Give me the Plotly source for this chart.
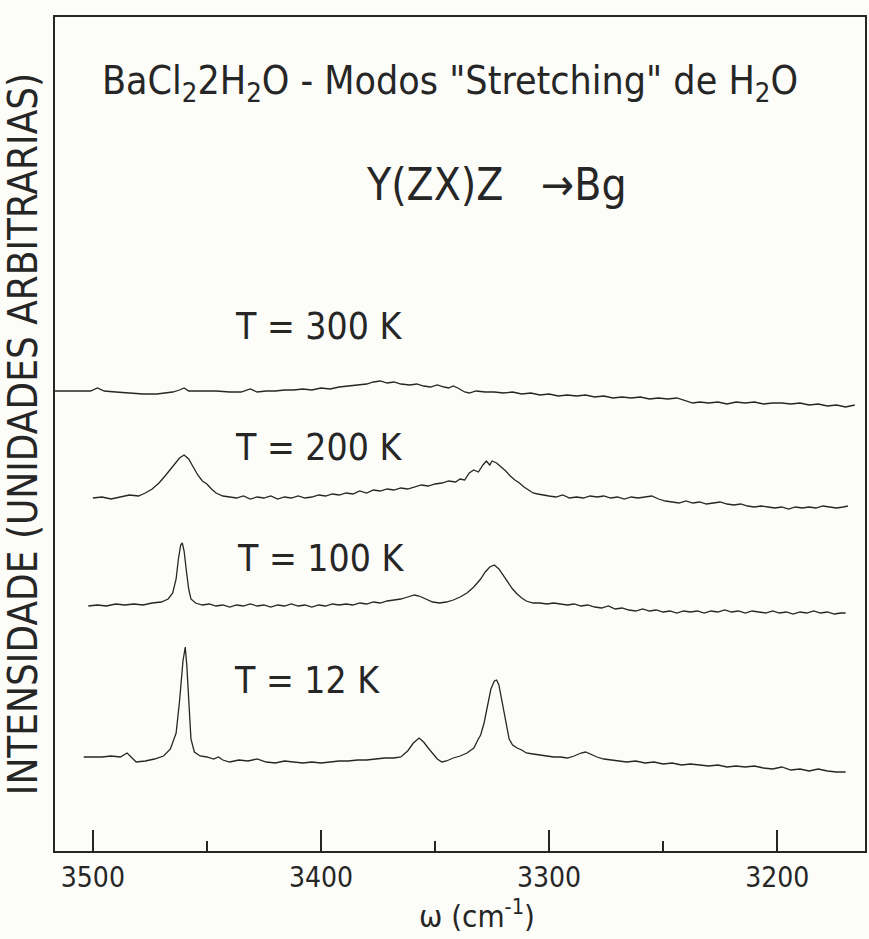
import plotly.graph_objects as go

# ---- data: wavenumber (cm^-1) and intensity (arb. units, offset per T) ----
w_12K = [3504, 3500, 3496, 3492, 3488, 3485, 3483, 3481, 3477, 3473, 3469, 3466, 3463.5, 3462, 3460.5,
         3459.5, 3458.8, 3458, 3457, 3455.5, 3453, 3450, 3447, 3445, 3443, 3440, 3436, 3432, 3428, 3424,
         3420, 3416, 3412, 3408, 3404, 3400, 3396, 3392, 3388, 3384, 3380, 3376, 3372, 3368, 3365, 3362,
         3359.5, 3357, 3355, 3353, 3351, 3349, 3347, 3345, 3342, 3339, 3336, 3333, 3331, 3330, 3328.5,
         3327, 3325.5, 3324, 3323, 3322, 3320.5, 3319, 3317.5, 3316, 3314, 3312, 3310, 3307, 3304, 3301,
         3298, 3295, 3292, 3289, 3286, 3284, 3282, 3279, 3276, 3273, 3270, 3266, 3262, 3258, 3254, 3250,
         3246, 3242, 3238, 3234, 3230, 3226, 3222, 3218, 3214, 3210, 3206, 3202, 3198, 3194, 3190, 3186,
         3182, 3178, 3174, 3170]
i_12K = [94, 94, 94, 95, 94, 98, 93, 89, 90, 92, 95, 102, 118, 150, 190,
         204, 185, 150, 112, 99, 95, 94, 92, 94, 91, 89, 91, 90, 92, 89,
         88, 90, 89, 88, 89, 88, 89, 90, 90, 91, 91, 92, 93, 93, 94, 100,
         108, 113, 109, 103, 97, 92, 89, 90, 93, 95, 98, 103, 112, 116, 128,
         145, 162, 170, 171, 166, 148, 127, 112, 106, 103, 101, 98, 97, 96, 95,
         94, 94, 93, 95, 98, 99, 97, 94, 92, 91, 90, 89, 90, 88, 89, 87,
         88, 86, 87, 86, 85, 86, 84, 85, 84, 85, 83, 82, 84, 81, 82, 80,
         82, 80, 79, 79]

w_100K = [3502, 3498, 3494, 3490, 3486, 3482, 3478, 3474, 3470, 3467, 3465, 3463.5, 3462.5, 3461.5,
          3460.8, 3460, 3459, 3458, 3457, 3455, 3452, 3449, 3446, 3443, 3440, 3437, 3434, 3431, 3428,
          3425, 3422, 3419, 3416, 3413, 3410, 3407, 3404, 3401, 3398, 3395, 3392, 3389, 3386, 3383,
          3380, 3377, 3374, 3371, 3368, 3365, 3362, 3359, 3357, 3354, 3351, 3348, 3345, 3342, 3339,
          3336, 3333, 3330, 3328, 3326, 3324, 3322, 3320, 3318, 3316, 3314, 3312, 3310, 3307, 3304,
          3301, 3298, 3295, 3292, 3289, 3286, 3283, 3280, 3277, 3274, 3271, 3268, 3265, 3262, 3259,
          3256, 3253, 3250, 3247, 3244, 3241, 3238, 3235, 3232, 3229, 3226, 3223, 3220, 3217, 3214,
          3211, 3208, 3205, 3202, 3199, 3196, 3193, 3190, 3187, 3184, 3181, 3178, 3175, 3172, 3170]
i_100K = [245, 246, 245, 247, 246, 247, 246, 248, 249, 252, 258, 272, 292, 306,
          308, 300, 280, 262, 252, 248, 246, 247, 245, 246, 244, 246, 245, 247, 245,
          246, 244, 246, 245, 247, 245, 246, 244, 246, 245, 247, 246, 247, 246, 248,
          247, 249, 248, 250, 251, 252, 254, 256, 255, 252, 249, 248, 249, 251, 254,
          258, 264, 272, 279, 284, 286, 282, 275, 268, 262, 257, 253, 250, 248, 248,
          247, 248, 247, 246, 247, 245, 246, 244, 243, 245, 242, 243, 241, 240, 242,
          240, 241, 239, 240, 238, 240, 239, 240, 238, 240, 239, 241, 239, 240, 238,
          240, 239, 238, 240, 238, 239, 237, 239, 238, 240, 238, 239, 237, 238, 238]

w_200K = [3500, 3496, 3492, 3488, 3484, 3480, 3477, 3474, 3471, 3468, 3465, 3462, 3460, 3458, 3456,
          3454, 3452, 3450, 3448, 3446, 3443, 3440, 3437, 3434, 3431, 3428, 3425, 3422, 3419, 3416,
          3413, 3410, 3407, 3404, 3401, 3398, 3395, 3392, 3389, 3386, 3383, 3380, 3377, 3374, 3371,
          3368, 3365, 3362, 3359, 3356, 3353, 3350, 3347, 3344, 3341, 3339, 3337, 3335, 3333, 3331,
          3329, 3327.5, 3326, 3325, 3323, 3321, 3319, 3317, 3315, 3313, 3311, 3309, 3307, 3305, 3303,
          3300, 3297, 3294, 3291, 3288, 3285, 3282, 3279, 3276, 3273, 3270, 3267, 3264, 3261, 3258,
          3255, 3252, 3249, 3246, 3243, 3240, 3237, 3234, 3231, 3228, 3225, 3222, 3219, 3216, 3213,
          3210, 3207, 3204, 3201, 3198, 3195, 3192, 3189, 3186, 3183, 3180, 3177, 3174, 3171, 3169]
i_200K = [353, 354, 352, 354, 356, 355, 358, 362, 368, 376, 385, 393, 396, 392, 384,
          376, 370, 367, 362, 358, 355, 354, 353, 355, 352, 354, 353, 355, 352, 354,
          353, 355, 353, 354, 356, 355, 357, 356, 358, 357, 360, 358, 361, 360, 362,
          361, 363, 362, 364, 366, 365, 367, 368, 370, 369, 372, 371, 378, 381, 379,
          386, 390, 386, 390, 388, 384, 380, 375, 371, 368, 364, 361, 358, 357, 356,
          355, 354, 356, 353, 354, 353, 355, 354, 355, 353, 354, 352, 354, 353, 354,
          355, 352, 350, 349, 348, 350, 348, 349, 347, 348, 349, 347, 346, 347, 345,
          344, 345, 344, 343, 344, 342, 344, 343, 344, 343, 345, 344, 343, 344, 345]

w_300K = [3517, 3512, 3506, 3501, 3498, 3495, 3490, 3484, 3478, 3472, 3468, 3465, 3462, 3460, 3458,
          3452, 3446, 3440, 3435, 3431, 3428, 3424, 3420, 3416, 3412, 3408, 3404, 3400, 3396, 3392,
          3388, 3384, 3380, 3377, 3374, 3371, 3368, 3365, 3361, 3358, 3355, 3352, 3349, 3346, 3344,
          3342, 3340, 3337, 3335, 3332, 3328, 3324, 3320, 3316, 3312, 3308, 3304, 3300, 3296, 3292,
          3288, 3284, 3280, 3276, 3272, 3268, 3264, 3260, 3256, 3252, 3248, 3244, 3240, 3237, 3234,
          3230, 3226, 3222, 3218, 3214, 3210, 3206, 3202, 3198, 3194, 3190, 3186, 3182, 3178, 3174,
          3170, 3166]
i_300K = [460, 460, 460, 460, 463, 460, 459, 458, 457, 457, 458, 459, 461, 463, 460,
          460, 460, 459, 459, 462, 459, 460, 460, 461, 461, 462, 461, 463, 462, 464,
          465, 466, 467, 469, 470, 468, 469, 467, 466, 467, 465, 464, 466, 464, 463,
          465, 463, 459, 458, 460, 459, 459, 458, 459, 457, 458, 456, 457, 455, 456,
          455, 456, 454, 455, 453, 454, 453, 454, 452, 453, 452, 453, 450, 448, 449,
          448, 449, 447, 449, 448, 449, 447, 448, 448, 447, 448, 446, 447, 445, 446,
          444, 446]

major_ticks = [3500, 3400, 3300, 3200]
minor_ticks = [3450, 3350, 3250]

title_text = "BaCl<sub>2</sub>2H<sub>2</sub>O - Modos \"Stretching\" de H<sub>2</sub>O"
geometry_text = "Y(ZX)Z   \u2192Bg"
temp_labels = ["T = 300 K", "T = 200 K", "T = 100 K", "T = 12 K"]
y_title = "INTENSIDADE (UNIDADES ARBITRARIAS)"
x_title = "\u03c9 (cm<sup>-1</sup>)"

# ---- figure ----
W, H = 869, 939
ML, MR, MT, MB = 55, 2, 17, 88
PW, PH = W - ML - MR, H - MT - MB
INK = "#262626"
PAPER = "#fcfcf9"
FONT = "Liberation Sans Narrow, Arial Narrow, DejaVu Sans Condensed, Liberation Sans, sans-serif"


def px(xp):
    return (xp - ML) / PW


def py(yp):
    return (H - MB - yp) / PH


fig = go.Figure()
for w, i in [(w_300K, i_300K), (w_200K, i_200K), (w_100K, i_100K), (w_12K, i_12K)]:
    fig.add_trace(go.Scatter(x=w, y=i, mode="lines", line=dict(color=INK, width=1.3),
                             showlegend=False, hoverinfo="skip"))

fig.update_layout(
    width=W, height=H,
    margin=dict(l=ML, r=MR, t=MT, b=MB),
    paper_bgcolor=PAPER, plot_bgcolor=PAPER,
    font=dict(family=FONT, color=INK, size=28),
    title=dict(text=title_text, x=450 / W, y=1 - 80 / H, xanchor="center", yanchor="middle",
               xref="container", yref="container",
               font=dict(family=FONT, color=INK, size=39)),
    xaxis=dict(range=[3516.6, 3161.5], tickvals=major_ticks, ticktext=[str(v) for v in major_ticks],
               ticks="inside", ticklen=21, tickwidth=1.6, tickcolor=INK,
               minor=dict(tickvals=minor_ticks, ticks="inside", ticklen=10, tickwidth=1.6, tickcolor=INK),
               showline=True, linecolor=INK, linewidth=2.4, mirror=True,
               showgrid=False, zeroline=False, tickfont=dict(size=28, family=FONT, color=INK)),
    yaxis=dict(range=[0, 834], showticklabels=False, ticks="", showgrid=False, zeroline=False,
               showline=True, linecolor=INK, linewidth=2, mirror=True,
               title=dict(text=y_title, standoff=6, font=dict(size=40, family=FONT, color=INK))),
)

labels = [(geometry_text, 498, 185, "center", 44), (x_title, 478, 914, "center", 31)]
for lab, xl, yl in zip(temp_labels, [233, 233, 235, 232], [326, 447, 558, 680]):
    labels.append((lab, xl, yl, "left", 37))
for text, xl, yl, anchor, size in labels:
    fig.add_annotation(text=text, xref="paper", yref="paper", x=px(xl), y=py(yl),
                       xanchor=anchor, yanchor="middle", showarrow=False,
                       font=dict(family=FONT, color=INK, size=size))

fig.write_html("out.html")
